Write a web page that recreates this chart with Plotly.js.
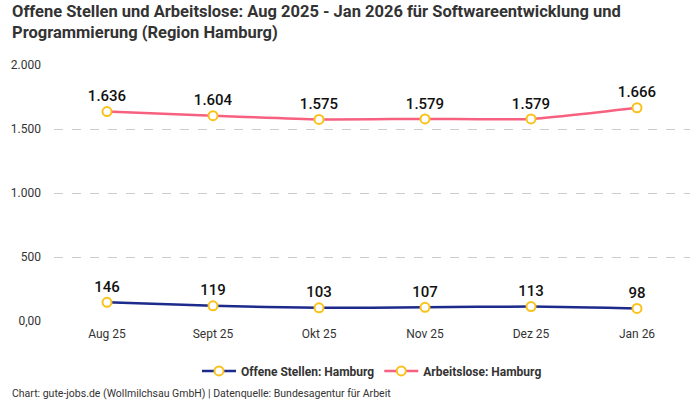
<!DOCTYPE html>
<html><head><meta charset="utf-8">
<script src="https://cdn.plot.ly/plotly-3.0.1.min.js"></script>
<style>html,body{margin:0;padding:0;background:#fff}#c{width:700px;height:400px}</style>
</head><body><div id="c"></div>
<script>
const months = ["Aug 25","Sept 25","Okt 25","Nov 25","Dez 25","Jan 26"];
const offeneStellen = [146,119,103,107,113,98];
const arbeitslose = [1636,1604,1575,1579,1579,1666];
const yTickVals = [0,500,1000,1500,2000];
const yTickText = ["0,00","500","1.000","1.500","2.000"];

const FONT = "'Roboto', sans-serif";
const marker = {symbol:'circle', size:9, color:'#ffffff', line:{color:'#f9c21b', width:2}};
function tr(name, y, color){
  return {x:months, y:y, name:name, type:'scatter', mode:'lines+markers+text',
    line:{color:color, width:2.5, shape:'spline', smoothing:0.6},
    marker:marker, texttemplate:'%{y:,.0f}', textposition:'top center',
    textfont:{family:FONT, size:15, color:'#111', weight:500}, cliponaxis:false, hoverinfo:'skip'};
}
const data = [tr('Offene Stellen: Hamburg', offeneStellen, '#1c2a8c'), tr('Arbeitslose: Hamburg', arbeitslose, '#f7617f')];
const layout = {
  width:700, height:400, separators:',.',
  margin:{l:54, r:10, t:65, b:79},
  paper_bgcolor:'#fff', plot_bgcolor:'#fff',
  font:{family:FONT, color:'#333', size:12},
  xaxis:{range:[-0.5,5.5], showgrid:false, zeroline:false, showline:false, ticks:'',
    tickfont:{size:12, color:'#333'}, ticklabelstandoff:4, fixedrange:true},
  yaxis:{range:[0,2000], tickvals:yTickVals, ticktext:yTickText, showgrid:true,
    gridcolor:'#cccccc', griddash:'dash', gridwidth:1, zeroline:false, showline:false,
    tickfont:{size:12, color:'#333'}, ticklabelstandoff:12, fixedrange:true},
  showlegend:true,
  legend:{orientation:'h', x:0.5, xanchor:'center', y:-0.195, yanchor:'middle',
    font:{family:FONT, size:12, color:'#333', weight:'bold'}, itemwidth:34},
  annotations:[
    {xref:'paper', yref:'paper', x:-44/636, xanchor:'left', y:1+65/256, yanchor:'top', align:'left',
     text:'Offene Stellen und Arbeitslose: Aug 2025 - Jan 2026 für Softwareentwicklung und<br>Programmierung (Region Hamburg)',
     showarrow:false, font:{family:FONT, size:16.5, color:'#333', weight:'bold'}},
    {xref:'paper', yref:'paper', x:-44/636, xanchor:'left', y:-72/256, yanchor:'middle',
    text:'Chart: gute-jobs.de (Wollmilchsau GmbH) | Datenquelle: Bundesagentur für Arbeit',
    showarrow:false, font:{family:FONT, size:10.5, color:'#333'}}]
};
Plotly.newPlot('c', data, layout, {staticPlot:true});
</script></body></html>
